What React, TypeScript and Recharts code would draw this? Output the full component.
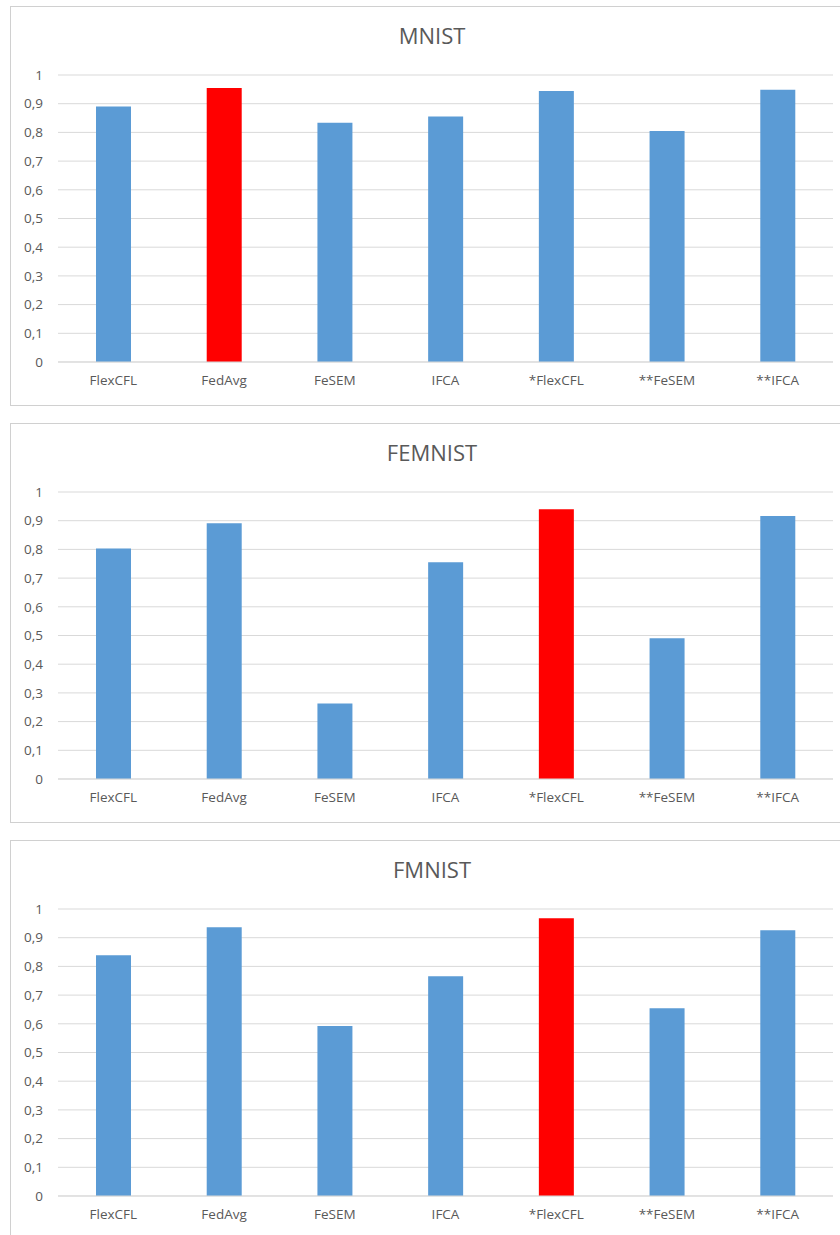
import { BarChart, Bar, XAxis, YAxis, CartesianGrid, Cell } from 'recharts'

const methods = ['FlexCFL', 'FedAvg', 'FeSEM', 'IFCA', '*FlexCFL', '**FeSEM', '**IFCA']
const yTicks = [0, 0.1, 0.2, 0.3, 0.4, 0.5, 0.6, 0.7, 0.8, 0.9, 1]

const mnistAcc = [0.89, 0.955, 0.834, 0.855, 0.944, 0.805, 0.949]
const femnistAcc = [0.803, 0.891, 0.263, 0.755, 0.94, 0.49, 0.916]
const fmnistAcc = [0.839, 0.936, 0.592, 0.766, 0.968, 0.654, 0.926]

// index of the best (red) bar in each chart
const mnistBest = 1
const femnistBest = 4
const fmnistBest = 4

const BLUE = '#5b9bd5'
const RED = '#ff0000'
const GREY = '#595959'
const FONT = '"Open Sans", sans-serif'

type PanelProps = { title: string; values: number[]; best: number; top: number; titleX: number }

function Panel({ title, values, best, top, titleX }: PanelProps) {
  const data = methods.map((m, i) => ({ name: m, v: values[i] }))
  return (
    <div style={{ position: 'absolute', left: 10, top, width: 840, height: 398, border: '1px solid #d0d0d0', background: '#fff' }}>
      <div style={{ position: 'absolute', left: titleX, top: 13, fontFamily: FONT, fontSize: 22, color: GREY, transform: 'translateX(-50%)' }}>
        {title}
      </div>
      <BarChart width={830} height={398} data={data} margin={{ top: 68, right: 8, left: 0, bottom: 13 }}>
        <CartesianGrid vertical={false} stroke="#d9d9d9" strokeWidth={1} />
        <XAxis
          dataKey="name"
          axisLine={{ stroke: '#d9d9d9' }}
          tickLine={false}
          tickSize={0}
          tickMargin={13}
          height={30}
          tick={{ fill: GREY, fontSize: 13.5, fontFamily: FONT }}
          interval={0}
        />
        <YAxis
          domain={[0, 1]}
          ticks={yTicks}
          width={47}
          axisLine={false}
          tickLine={false}
          tickSize={0}
          tickMargin={15}
          tick={{ fill: GREY, fontSize: 13.5, fontFamily: FONT }}
          tickFormatter={(v: number) => String(v).replace('.', ',')}
        />
        <Bar dataKey="v" barSize={35} isAnimationActive={false}>
          {data.map((_, i) => (
            <Cell key={i} fill={i === best ? RED : BLUE} />
          ))}
        </Bar>
      </BarChart>
    </div>
  )
}

export default function App() {
  return (
    <div style={{ position: 'absolute', left: 0, top: 0, width: 840, height: 1235, overflow: 'hidden', background: '#fff' }}>
      <Panel title="MNIST" values={mnistAcc} best={mnistBest} top={6} titleX={421} />
      <Panel title="FEMNIST" values={femnistAcc} best={femnistBest} top={423} titleX={421} />
      <Panel title="FMNIST" values={fmnistAcc} best={fmnistBest} top={840} titleX={421} />
    </div>
  )
}
